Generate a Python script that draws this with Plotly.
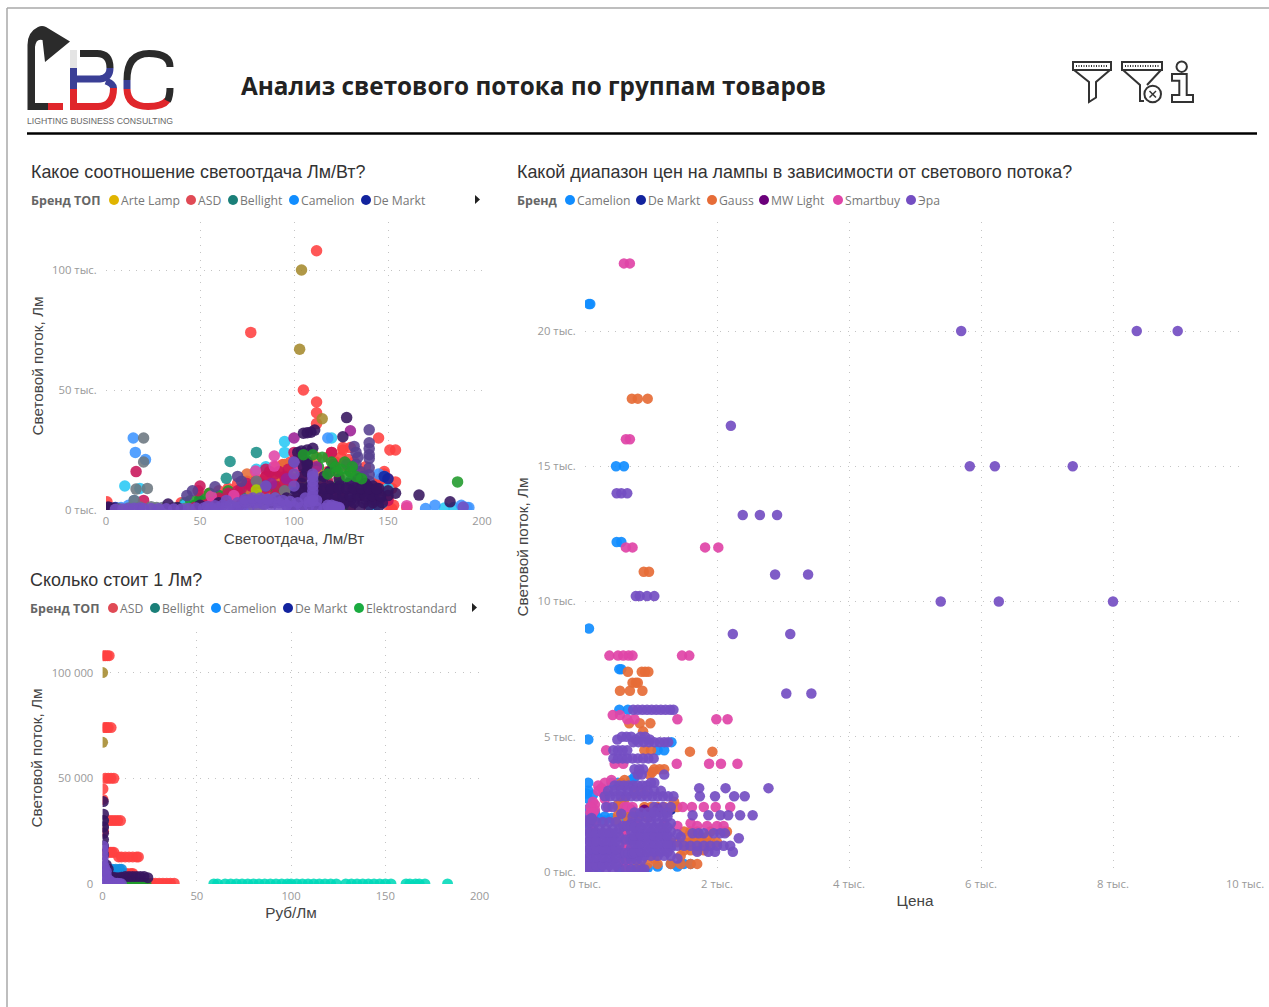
import plotly.graph_objects as go

W, H = 1269, 1007
AXIS_GREY = "#999999"
TITLE_GREY = "#444444"
DOT = "1px,6.5px"

# ---------- data: Chart 1 (Светоотдача, Лм/Вт ; Световой поток, тыс. Лм)
c1_red_x = [112,77,105,112,112,112,145,151,154,126,130,129,148,150,154,152,147,143,120,125,122,128,150,153,150,142,135,118,100,95,90,85,80,75,70,60,50,40,0.5,1,110,108,120,115,140,145,148,125,130,135,102,98,92,88,83,65,55,152,145,160,
            108,104,100,96,92,88,84,80,76,72,68,64,60,56,52,48,112,116,124,132,136,144,148,146,138,126,118,122,0.5,90,94,98,102]
c1_red_y = [108,74,50,45,40.5,36,30,25,25,25,26,21,15,13,11.7,9,8,6,24,22,20,18,2,2,5,4,6,16,17,16,15,14,13,12,11,8,6,3,3.4,1,18,20,8,6,1,12,16,3,1,12,19,18,17,14,12,9,7,0.5,3,1,
            16,15,14,13,12,11,10,9,8,7,6,5,4,3,2,1,13,12,14,20,16,10,11,13,18,26,22,17,1,18,19,20,21]
c1_olive_x = [104,103,115,88,122,85,75,60,90,120]
c1_olive_y = [100,67,38,7,4,5,3,2,10,6]
c1_teal_x = [66,64,80,72,40,55,90,42,47,60,75]
c1_teal_y = [20.2,13.2,24,8,1,2,15,3,2,6,9]
c1_cyan_x = [10,18,95,95,180,147,143,141,42,112,120,150,185,80,85]
c1_cyan_y = [10,9,28.5,24,0.8,3,1,0.5,2,8,30,9,1,17,18]
c1_blue_x = [14.5,15.6,21,15,175,189,192,118,145,148,8,12,60,75,170,193]
c1_blue_y = [30,24,21,4,2,2,1,30,15,14,1,2,1,2,0.6,1]
c1_navy_x = [5,50,70,85,100,110,148,150,120,130]
c1_navy_y = [1,4,6,5,9,14,14,13,7,4]
c1_green_x = [105,108,113,100,105,112,118,124,130,135,95,90,85,80,75,70,65,60,55,50,45,122,126,116,
              98,102,106,92,96,100,104,72,77,82,87,63,68,53,58,48]
c1_green_y = [19,17,18,12,10,13,11,11,9,7,8,7,5,6,5,7,8,6,7,5,4,1,1.5,4,
              15,16,21,10,11,13,14,3,4,3,4,4,5,3,4,2]
c1_green_top_x = [187,105,110,115,120,127,130,123,118,128,122,125,131,136,133]
c1_green_top_y = [11.7,23,23,22,20,20,16,16,15,14,18,17,18,13,14]
c1_orange_x = [75,95,100,115,122,108,125,112,130,95,85,70,62,90,122,77,92,98,104,112,118]
c1_orange_y = [15,19,18,10,3,6,5,22,16,12,6,5,4,14,3,8,17,15,13,16,8]
c1_crimson_x = [16,20,100,121,85,90,95,100,80,75,70,65,60,50,49,75,85,120,150,118,105,95,90,55,85,78,
                87,92,97,102,82,77,72,67,62,57,52,47,90,95,100,104,110,115,120,125]
c1_crimson_y = [16,4,24,19,17,15,14,13,12,11,8,7,5,10,8,4,9,24,4,12,6,8,6,3,14,10,
                16,16,17,18,11,10,9,6,4,3,2,1,10,11,12,14,8,9,7,5]
c1_magenta_x = [100,130,72,80,88,96,128,112,118]
c1_magenta_y = [30,33,4,6,11,13,19,18,6]
c1_pink_x = [89.5,89.5,79.5,56,160,123,130,68,108,102]
c1_pink_y = [22.5,18.3,16.2,5.8,1.8,3,9,6,15,19]
c1_slate_x = [140,140,140,140,140,140,140,132,133,134,100,72,70,85,58,46,43,130,140,133,135,137]
c1_slate_y = [33.4,28,25.5,23,21.5,17.6,14.7,26.5,24,22,20,12,14,10,9.7,8,6,12,12,19,16,14]
c1_grey_x = [20,20,16,80,22,15,30,95,100,36,7,27,12,18,24,42,90,98]
c1_grey_y = [30,20,8.7,12,9,4,1,8,4,1,0.5,1,0.8,1.2,1.4,0.6,5,2]
c1_dark_x = [128,111,109,107,105,110,107,104,102,126,166.5,183,154,150,145,142,
             100,105,110,115,120,125,130,135,140,145,
             103,108,113,118,123,128,133,138,143,
             101,106,111,116,121,126,131,136,141,
             104,109,114,119,124,129,134,139,144,
             105,107,105,107,105,107,1,33,38,50,60,70,134,138,142,150,146,
             102,112,117,122,127,132,137,142,147,102,106,110,114,118,122,126,130,134,138,142,146,
             104,108,112,116,120,124,128,132,136,140,144,116,119,124,1,2,4,88,92,96]
c1_dark_y = [38.5,33.3,32.4,32.2,32,25.7,25,24.6,24,30.5,6.2,3.4,7,8,9,10,
             1.5,2,1.5,2,1,2,1.5,1,2,1.5,
             4,4.5,4,5,4.5,4,5,4.5,4,
             7,8,7,8,9,7,8,7,6,
             11,10,12,10,10,11,9,10,8,
             14,16,18,20,22,19,0.5,2.5,1,2,3,1,13,11,8,6,5,
             3,3,3,3,3,3,3,3,3,6,6,6,6,6,6,6,6,6,6,6,6,
             9,9,9,9,9,9,9,9,9,9,9,14,16,13,1.2,1,0.7,3,4,5]
c1_lime_x = [80,78,82]
c1_lime_y = [8.3,2,1]
c1_purple_x = [12,15,18,20,24,28,32,36,44,48,52,56,60,64,68,72,76,80,84,88,92,96,100,104,108,112,116,120,124,190,
               64,70,76,80,84,88,92,96,106,110,110,110,110,110,120,124,
               62,66,70,74,78,82,86,90,94,98,102,118,122,108,112,5,9,40,54,58,74,78,82,86,110,110,
               100,100,100,85]
c1_purple_y = [0.6,0.7,0.8,0.6,0.6,0.5,0.5,0.4,0.6,0.8,0.8,0.9,0.9,1,1.2,1.5,1,2,2.5,2,1.5,2,1.5,1,2,1,0.6,1,0.6,1.2,
               4,1,3,3,2,4,3,2,5,6,8,10,12,15,2,1,
               2,2,3,3.5,4,4,4.5,5,4,3.5,3,2,1.5,3.5,4,0.3,0.4,0.3,1.5,1.8,4.5,5,5,4.5,4,14,
               20,15,10,10]

# ---------- data: Chart 2 (Руб/Лм ; Световой поток, тыс. Лм)
c2_red_x = [0.5,1.5,2.5,3.5, 1,2,3,4.5, 1.5,3,4.5,6, 0.2,0.2,3.5,5,6.5,8,9.5,0.5,1.5,3,4,5,6, 8.5,10,12,14,16,18,19, 5.5,7,9,11,13,15,16, 24,26,28,30,32,34,36,38]
c2_red_y = [108,108,108,108, 74,74,74,74, 50,50,50,50, 45,40,30,30,30,30,30,25,15,15,15,15,15, 12.8,12.8,12.8,12.8,12.8,12.8,12.8, 5,5,5,5,5,5,5, 0.4,0.4,0.4,0.4,0.4,0.4,0.4,0.4]
c2_olive_x = [0,0]
c2_olive_y = [100,67]
c2_teal_x = [59,61,65,68,71,74,77,80,83,86,89,92,95,98,100,103,106,109,112,115,118,121,124,129,132,135,138,141,144,147,150,153,161,163,166,168,171,183]
c2_teal_y = [0,0,0,0,0,0,0,0,0,0,0,0,0,0,0,0,0,0,0,0,0,0,0,0,0,0,0,0,0,0,0,0,0,0,0,0,0,0]
c2_blue_x = [3,5,7,9,10]
c2_blue_y = [7,7,7,7,7]
c2_green_x = [3,5,7,9,11,13,15,17,19,21,23]
c2_green_y = [1.5,1.5,1.2,1.2,1,1,0.8,0.8,0.6,0.6,0.4]
c2_grey_x = [0.4,0.4]
c2_grey_y = [30,27]
c2_lime_x = [2,2.5]
c2_lime_y = [6,5]
c2_dark_x = [0.4,0.5,0.5,0.5,0.5,0.5,0.5,0.5,0.5,2,3,2,3,4,6,8,10,12,14,16,18,20,22,24]
c2_dark_y = [39,33,30,27,24,21,18,14,10,9,7,6,4.5,3.5,3.2,3,3.2,3.5,3.5,3.5,3.5,3.5,3.5,3]
c2_purple_x = [0.3,0.3,0.3,0.3,0.3,0.3,0.3,0.3,0.3,0.3,1,1,1,1,1,2,2,2,2,3,3,4,4,5,6,7,8,9,10]
c2_purple_y = [0,2,4,6,8,10,12,14,16,18,0,2,4,6,8,0,2,4,6,0,2,0,1.5,0.5,0.5,0.3,0.3,0.2,0.1]

# ---------- data: Chart 3 (Цена, тыс. ; Световой поток, тыс. Лм)
c3_camelion_x = [.06,.08,.47,.59,.48,.55,.06,.52,.55,.52,.65,.05,1.31,1.1,1.2,.05,.05,.1,.02,.15,.3,.45,.6,.1,.2,.4,.75,.5,.7,.2,.9,1.3,1.5,1.6,.55,.02,.02,.3,.4,.7,.8,.95,1.1,1.4,.05,.12,.02]
c3_camelion_y = [21,21,15,15,12.2,12.2,9,7.5,7.5,6,6,4.9,4.8,4.5,4.5,3.3,2.7,2.5,2.3,2.2,1.9,1.9,1.9,2,2,3.3,3.5,3.3,3.4,.1,.1,.3,.3,.3,.1,2.0,1.8,2.05,2.0,.1,.1,.15,.2,.2,3,2.85,2.9]
c3_demarkt_x = [.7,.9,1.1,1.2,1.3]
c3_demarkt_y = [2.3,2.3,2.3,2.3,2.3]
c3_gauss_x = [.71,.80,.95,.89,.97,.65,.86,.91,.96,.72,.77,.8,.53,.68,.87,.67,.83,.99,.88,.9,1.0,1.59,1.93,1.05,1.13,1.2,.55,.6,.9,1.0,1.1,1.2,1.3,1.4,.5,.65,.8,.95,.55,.7,.6,1.5,1.6,1.7,1.9,2.1,2.15,1.3,1.4,1.5,1.6,1.7,1.8,1.9,2.0,.8,.95,1.1,1.3,1.45,1.6,1.7,.6,1.05,
            .58,.6,.62,.64,.66,1.55,1.65,1.75,1.85,1.6,1.7,1.8,1.45,1.5,.5,.55,.6,1.35,.98,1.02,.75,.9,.5,.48]
c3_gauss_y = [17.5,17.5,17.5,11.1,11.1,7.4,7.4,7.4,7.4,7,7,7,6.7,6.7,6.7,5.5,5.5,5.5,5.2,4.5,4.5,4.45,4.45,3.8,3.8,3.8,3.3,3.4,2.4,2.4,2.4,2.4,2.4,2.4,2.4,2,2,2,2.2,2.15,1.5,1.5,1.5,1.5,1.5,1.5,1.5,1.1,1.1,1.1,1.1,1.1,1.1,1.1,1.1,.3,.3,.3,.3,.3,.3,.3,.7,.5,
            1.7,1.4,1.1,.8,.5,1.3,1.3,1.3,1.3,.8,.8,.8,.6,.8,2.5,2.6,2.7,2.6,3.6,3.7,2.9,2.9,2.1,1.9]
c3_mw_x = [.9,1.1]
c3_mw_y = [2.3,2.35]
c3_smart_x = [.59,.68,.62,.68,.62,.72,1.82,2.02,.37,.5,.58,.66,.72,1.47,1.58,.42,.53,.64,.75,1.4,1.99,2.16,.32,.45,.58,1.39,1.88,2.06,2.31,.3,.4,.2,.28,.3,.35,.15,.12,.6,.65,.72,1.48,1.62,1.8,1.98,2.2,.08,.1,.12,.08,.1,.6,.55,.58,1.2,1.4,1.6,1.7,1.85,2.0,2.1,.6,.62,
            .58,.6,.62,.64,.6,.64,.2,.25,.3,.15,.1,.05,.7,.78,.08,.12]
c3_smart_y = [22.5,22.5,16,16,12,12,12,12,8,8,8,8,8,8,8,5.8,5.8,5.65,5.65,5.65,5.65,5.65,4.5,4,4,4,4,4,4,3.3,3.4,3,2.9,2.7,2.4,2.5,2.6,2.4,2.4,2.4,2.4,2.4,2.4,2.4,2.4,2.2,2.0,1.8,1.5,1.2,1.3,.8,.4,1.8,1.7,1.8,1.7,1.7,1.7,1.7,.9,.2,
            1.7,1.5,1.2,.9,.6,.3,3.2,3.1,3,2.3,2.05,1.9,1.75,1.75,2.4,2.2]
c3_era_x = [5.7,8.36,8.98,2.21,5.83,6.21,7.39,.48,.55,.64,2.39,2.65,2.91,2.88,3.38,.77,.83,.94,1.05,5.39,6.27,8,2.24,3.11,3.05,3.43,
            .73,.8,.87,.94,1.01,1.08,1.15,1.22,1.29,1.34,
            .49,.56,.63,.7,.77,.84,.91,.98,
            .73,.81,.89,.97,1.05,1.13,1.2,1.26,
            .43,.5,.57,.64,.43,.5,.57,.64,.72,.8,.88,.96,1.04,
            .75,.82,.88,.8,.86,1.2,
            .45,.52,.59,.66,.73,.8,.87,.94,1.0,1.05,1.73,2.13,2.78,
            .3,.38,.46,.54,.62,.7,.78,.86,.94,1.02,1.1,1.18,1.26,1.34,1.74,1.97,2.26,2.42,
            .32,.42,1.05,1.18,1.3,
            1.63,1.87,2.05,2.17,2.35,2.54,
            .02,.12,.22,.32,.42,.52,.02,.12,.22,.32,.42,.52,.02,.12,.22,.32,.42,.52,.02,.12,.22,.32,.42,.52,.02,.12,.22,.32,.42,.52,.02,.12,.22,.32,.42,.52,
            .7,.8,.9,1,1.1,1.2,1.3,.7,.8,.9,1,1.1,1.2,1.3,.7,.8,.9,1,1.1,1.2,1.3,.7,.8,.9,1,1.1,1.2,1.3,.7,.8,.9,1,1.1,1.2,1.3,.72,.82,.92,1,1.08,1.18,1.25,
            1.3,1.4,1.5,1.6,1.7,1.8,1.9,2,2.1,2.2,1.87,1.97,2.24,
            1.4,1.45,1.63,1.72,1.8,1.95,2.05,2.12,2.33,
            .62,.7,.78,.86,.9,.62,.7,.78,.86,.55,1.4,1.7,.1,
            .07,.17,.27,.37,.47,.75,.85,.95,1.05,1.15,1.25,.35,.45,.55,.65,.75,.85,.95,1.05,1.15,.6,.66,.72,.62,.68,.74,.58,.64,.7,.02,.1,.05,.02,
            .07,.17,.27,.37,.47,.07,.17,.27,.37,.47,.07,.17,.27,.37,.47,.07,.17,.27,.37,.47,.07,.17,.27,.37,.47,
            .75,.85,.95,1.05,1.15,1.25,.75,.85,.95,1.05,1.15,1.25,.75,.85,.95,1.05,1.15,1.25,.75,.85,.95,1.05,1.15,1.25]
c3_era_y = [20,20,20,16.5,15,15,15,14,14,14,13.2,13.2,13.2,11,11,10.2,10.2,10.2,10.2,10,10,10,8.8,8.8,6.6,6.6,
            6,6,6,6,6,6,6,6,6,6,
            4.9,5,5,5,4.9,5,5,4.9,
            4.8,4.8,4.8,4.8,4.8,4.8,4.8,4.8,
            4.2,4.2,4.2,4.2,4.5,4.5,4.5,4.5,4.2,4.2,4.2,4.2,4.2,
            3.8,3.8,3.8,3.6,3.6,3.6,
            3.2,3.2,3.2,3.2,3.2,3.2,3.2,3.2,3.3,3.3,3.1,3.1,3.1,
            2.8,2.8,2.8,2.8,2.8,2.8,2.8,2.8,2.8,2.8,2.8,2.8,2.8,2.8,2.8,2.8,2.8,2.8,
            2.4,2.4,2.4,2.4,2.4,
            2.1,2.1,2.1,2.1,2.1,2.1,
            .1,.1,.1,.1,.1,.1,.4,.4,.4,.4,.4,.4,.7,.7,.7,.7,.7,.7,1,1,1,1,1,1,1.3,1.3,1.3,1.3,1.3,1.3,1.6,1.6,1.6,1.6,1.6,1.6,
            .6,.6,.6,.6,.6,.6,.6,.9,.9,.9,.9,.9,.9,.9,1.2,1.2,1.2,1.2,1.2,1.2,1.2,1.5,1.5,1.5,1.5,1.5,1.5,1.5,1.8,1.8,1.8,1.8,1.8,1.8,1.8,2.05,2.05,2.05,2.05,2.05,2.05,2.05,
            .97,.97,.97,.97,.97,.97,.97,.97,.97,.97,.75,.75,.75,
            1.4,1.3,1.43,1.43,1.43,1.43,1.43,1.43,1.25,
            .1,.1,.1,.1,.1,.45,.45,.45,.45,2.15,.5,.75,2.0,
            1.85,1.85,1.85,1.85,1.85,2.2,2.2,2.2,2.2,2.2,2.2,3,3,3,3,3,3,3,3,3,.7,.7,.7,1.2,1.2,1.2,1.7,1.7,1.7,1.9,1.95,.05,.25,
            .25,.25,.25,.25,.25,.55,.55,.55,.55,.55,.85,.85,.85,.85,.85,1.15,1.15,1.15,1.15,1.15,1.45,1.45,1.45,1.45,1.45,
            .75,.75,.75,.75,.75,.75,1.05,1.05,1.05,1.05,1.05,1.05,1.35,1.35,1.35,1.35,1.35,1.35,1.65,1.65,1.65,1.65,1.65,1.65]

# ---------- texts
c1_legend = ["Arte Lamp","ASD","Bellight","Camelion","De Markt"]
c1_legend_colors = ["#E0B400","#E04A55","#1A7F78","#118DFF","#12239E"]
c2_legend = ["ASD","Bellight","Camelion","De Markt","Elektrostandard"]
c2_legend_colors = ["#E04A55","#1A7F78","#118DFF","#12239E","#1AAB40"]
c3_legend = ["Camelion","De Markt","Gauss","MW Light","Smartbuy","Эра"]
c3_legend_colors = ["#118DFF","#12239E","#E66C37","#6B007B","#E044A7","#744EC2"]

fig = go.Figure()

def scat(x, y, color, axis, size=9.5, name=None, opacity=0.88):
    fig.add_trace(go.Scatter(
        x=x, y=y, mode="markers", name=name, xaxis="x"+axis, yaxis="y"+axis,
        marker=dict(color=color, size=size, opacity=opacity, line=dict(width=0)),
        showlegend=False, hoverinfo="skip"))

for x, y, c, n in [
    (c1_red_x, c1_red_y, "#FF4040", "ASD"),
    (c1_olive_x, c1_olive_y, "#A58A2E", "Arte Lamp"),
    (c1_teal_x, c1_teal_y, "#1A8F88", "Bellight"),
    (c1_cyan_x, c1_cyan_y, "#28C8F5", "Feron"),
    (c1_blue_x, c1_blue_y, "#3D94FF", "Camelion"),
    (c1_navy_x, c1_navy_y, "#12239E", "De Markt"),
    (c1_green_x, c1_green_y, "#1F9A2A", "Elektrostandard"),
    (c1_orange_x, c1_orange_y, "#E66C37", "Gauss"),
    (c1_crimson_x, c1_crimson_y, "#C8145A", "Jazzway"),
    (c1_magenta_x, c1_magenta_y, "#9C1F95", "MW Light"),
    (c1_pink_x, c1_pink_y, "#E044A7", "Smartbuy"),
    (c1_slate_x, c1_slate_y, "#56408F", "Navigator"),
    (c1_grey_x, c1_grey_y, "#6B7680", "Osram"),
    (c1_dark_x, c1_dark_y, "#36145F", "Philips"),
    (c1_green_top_x, c1_green_top_y, "#1F9A2A", "Elektrostandard"),
    (c1_lime_x, c1_lime_y, "#A8D000", "Uniel"),
    (c1_purple_x, c1_purple_y, "#744EC2", "Эра"),
]:
    scat(x, y, c, "", 11.5, n)

for x, y, c, n in [
    (c2_teal_x, c2_teal_y, "#00D8B8", "Maytoni"),
    (c2_red_x, c2_red_y, "#FF4040", "ASD"),
    (c2_olive_x, c2_olive_y, "#A58A2E", "Arte Lamp"),
    (c2_blue_x, c2_blue_y, "#118DDF", "Camelion"),
    (c2_green_x, c2_green_y, "#1F9A2A", "Elektrostandard"),
    (c2_grey_x, c2_grey_y, "#6B7680", "Osram"),
    (c2_lime_x, c2_lime_y, "#A8D000", "Uniel"),
    (c2_dark_x, c2_dark_y, "#36145F", "Philips"),
    (c2_purple_x, c2_purple_y, "#744EC2", "Эра"),
]:
    scat(x, y, c, "2", 11, n)

for x, y, c, n in [
    (c3_camelion_x, c3_camelion_y, "#118DFF", "Camelion"),
    (c3_demarkt_x, c3_demarkt_y, "#12239E", "De Markt"),
    (c3_gauss_x, c3_gauss_y, "#E66C37", "Gauss"),
    (c3_mw_x, c3_mw_y, "#6B007B", "MW Light"),
    (c3_smart_x, c3_smart_y, "#E044A7", "Smartbuy"),
    (c3_era_x, c3_era_y, "#744EC2", "Эра"),
]:
    scat(x, y, c, "3", 10.5, n, 0.92)

# overlay pixel axes used for decorations
fig.add_trace(go.Scatter(x=[None], y=[None], xaxis="x4", yaxis="y4", showlegend=False, hoverinfo="skip"))

def dx(a, b): return [a / W, b / W]
def dy(top, bottom): return [1 - bottom / H, 1 - top / H]

def axis(title, tickvals, ticktext, rng, domain, standoff, anchor, ticklen=6):
    return dict(
        domain=domain, range=rng, anchor=anchor, tickmode="array", tickvals=tickvals, ticktext=ticktext,
        tickfont=dict(family="Open Sans", size=11.3, color=AXIS_GREY),
        ticks="outside", ticklen=ticklen, tickcolor="rgba(0,0,0,0)", showline=False, zeroline=False,
        showgrid=True, gridcolor="#c4c4c4", griddash=DOT, gridwidth=1,
        title=dict(text=title, font=dict(family="Liberation Sans", size=15.3, color=TITLE_GREY), standoff=standoff),
        automargin=False,
    )

layout = dict(
    width=W, height=H, margin=dict(l=0, r=0, t=0, b=0), paper_bgcolor="white", plot_bgcolor="rgba(0,0,0,0)",
    autosize=False, showlegend=False, hovermode=False,
    xaxis=axis("Светоотдача, Лм/Вт", [0,50,100,150,200], ["0","50","100","150","200"], [0,200], dx(106,482), 6, "y", 0),
    yaxis=axis("Световой поток, Лм", [0,50,100], ["0 тыс.","50 тыс.","100 тыс."], [0,120], dy(222,510), 4, "x"),
    xaxis2=axis("Руб/Лм", [0,50,100,150,200], ["0","50","100","150","200"], [0,200], dx(102.6,479.6), 5, "y2", 1),
    yaxis2=axis("Световой поток, Лм", [0,50,100], ["0","50 000","100 000"], [0,119.2], dy(632,884), 5, "x2"),
    xaxis3=axis("Цена", [0,2,4,6,8,10], ["0 тыс.","2 тыс.","4 тыс.","6 тыс.","8 тыс.","10 тыс."], [0,10], dx(585,1245), 5, "y3", 1),
    yaxis3=axis("Световой поток, Лм", [0,5,10,15,20], ["0 тыс.","5 тыс.","10 тыс.","15 тыс.","20 тыс."], [0,24.03], dy(222,872), 5, "x3"),
    xaxis4=dict(domain=[0,1], range=[0,W], visible=False, anchor="y4", fixedrange=True),
    yaxis4=dict(domain=[0,1], range=[H,0], visible=False, anchor="x4", fixedrange=True),
)
fig.update_layout(**layout)

anns, shapes = [], []
def text(x, y, s, size, color, family="Open Sans", bold=False, anchor="left"):
    anns.append(dict(x=x - 2, y=y, xref="x4", yref="y4", text=f"<b>{s}</b>" if bold else s, showarrow=False,
                     xanchor=anchor, yanchor="middle", font=dict(family=family, size=size, color=color)))
def path(d, line=None, fill=None, width=1):
    shapes.append(dict(type="path", xref="x4", yref="y4", path=d, fillcolor=fill or "rgba(0,0,0,0)",
                       line=dict(color=line or "rgba(0,0,0,0)", width=width)))
def circle(cx, cy, r, fill=None, line=None, width=1):
    shapes.append(dict(type="circle", xref="x4", yref="y4", x0=cx-r, x1=cx+r, y0=cy-r, y1=cy+r,
                       fillcolor=fill or "rgba(0,0,0,0)", line=dict(color=line or "rgba(0,0,0,0)", width=width)))
def seg(x0, y0, x1, y1, color, width, dash=None):
    shapes.append(dict(type="line", xref="x4", yref="y4", x0=x0, y0=y0, x1=x1, y1=y1,
                       line=dict(color=color, width=width, dash=dash or "solid")))

# frame and rule
seg(7, 8, W, 8, "#a8a8a8", 1.5)
seg(7, 8, 7, H, "#a8a8a8", 1.5)
seg(27, 133.5, 1257, 133.5, "#000000", 2.5)

# title and chart headings
text(241, 85, "Анализ светового потока по группам товаров", 24.3, "#222222", bold=True)
text(31, 172, "Какое соотношение светоотдача Лм/Вт?", 17.9, "#333333", "Liberation Sans")
text(30, 580, "Сколько стоит 1 Лм?", 17.9, "#333333", "Liberation Sans")
text(517, 172, "Какой диапазон цен на лампы в зависимости от светового потока?", 17.9, "#333333", "Liberation Sans")

# legends
def legend(y, head, head_x, names, colors, dots):
    text(head_x, y, head, 12.5, "#666666", bold=True)
    for n, c, d in zip(names, colors, dots):
        circle(d, y, 5, fill=c)
        text(d + 6.5, y, n, 12.2, "#777777")
legend(200, "Бренд ТОП", 31, c1_legend, c1_legend_colors, [114,191,233,294,366])
legend(608, "Бренд ТОП", 30, c2_legend, c2_legend_colors, [113,155,216,288,359])
legend(200, "Бренд", 517, c3_legend, c3_legend_colors, [570,641,712,764,838,911])
path("M475,195 L480,199.5 L475,204 Z", fill="#222222")
path("M472,603 L477,607.5 L472,612 Z", fill="#222222")

# logo
DARK, BLUE, RED = "#2b2b2b", "#3a3f96", "#e0262b"
path("M27.5,110 V45 Q27.5,32 38,27 Q42,25 46,27 L70,41.5 L45,62 L42.5,40 Q36,38 35,47 V103 H48 V110 Z", fill=DARK)
path("M48,103 H63 V110 H48 Z", fill=RED)
path("M73.5,50 V68", line="#e4e4e4", width=7)
path("M73.5,68 V89", line=BLUE, width=7)
path("M73.5,89 V110", line=RED, width=7)
path("M80,53.5 H97 Q110,53.5 110,68", line=DARK, width=7)
path("M110,68 Q110,78 100,79 H77", line=BLUE, width=7)
path("M106,81 Q113.5,84 113.5,88", line=BLUE, width=7)
path("M113.5,88 Q113.5,106.5 98,106.5 H77", line=RED, width=7)
path("M170,67 Q170,53.5 149,53.5 Q127,53.5 127,80", line=DARK, width=7)
path("M127,80 V89", line=BLUE, width=7)
path("M127,89 Q127.5,106.5 148,106.5 Q163,106.5 167.5,100", line=RED, width=7)
path("M167.5,101 Q170,96 170,88", line=DARK, width=7)
text(27, 120.5, "LIGHTING BUSINESS CONSULTING", 8.7, "#666666", "Liberation Sans")

# icons
ICON = "#333333"
path("M1073,62 H1111 V70 H1073 Z", line=ICON, width=2)
seg(1076, 66, 1108, 66, ICON, 2, "1px,1.5px")
path("M1074,70 L1089,82 V102 L1096,97.5 V82 L1110,70", line=ICON, width=2)
path("M1122,62 H1162 V70 H1122 Z", line=ICON, width=2)
seg(1125, 66, 1159, 66, ICON, 2, "1px,1.5px")
path("M1123,70 L1140,85 V101 L1144,101", line=ICON, width=2)
path("M1161,70 L1147,85", line=ICON, width=2)
circle(1152.7, 94, 8.3, fill="white", line=ICON, width=2)
seg(1149.5, 91, 1156, 97.5, ICON, 1.5)
seg(1156, 91, 1149.5, 97.5, ICON, 1.5)
circle(1181.7, 66.7, 5.2, line=ICON, width=2)
path("M1172,74 H1186.7 V95 H1193 V102 H1172 V95 H1179.3 V80.7 H1172 Z", line=ICON, width=2)

fig.update_layout(annotations=anns, shapes=shapes)
fig.write_html("out.html", config=dict(displayModeBar=False),
               post_script="document.body.style.margin='0';document.body.style.overflow='hidden';")
